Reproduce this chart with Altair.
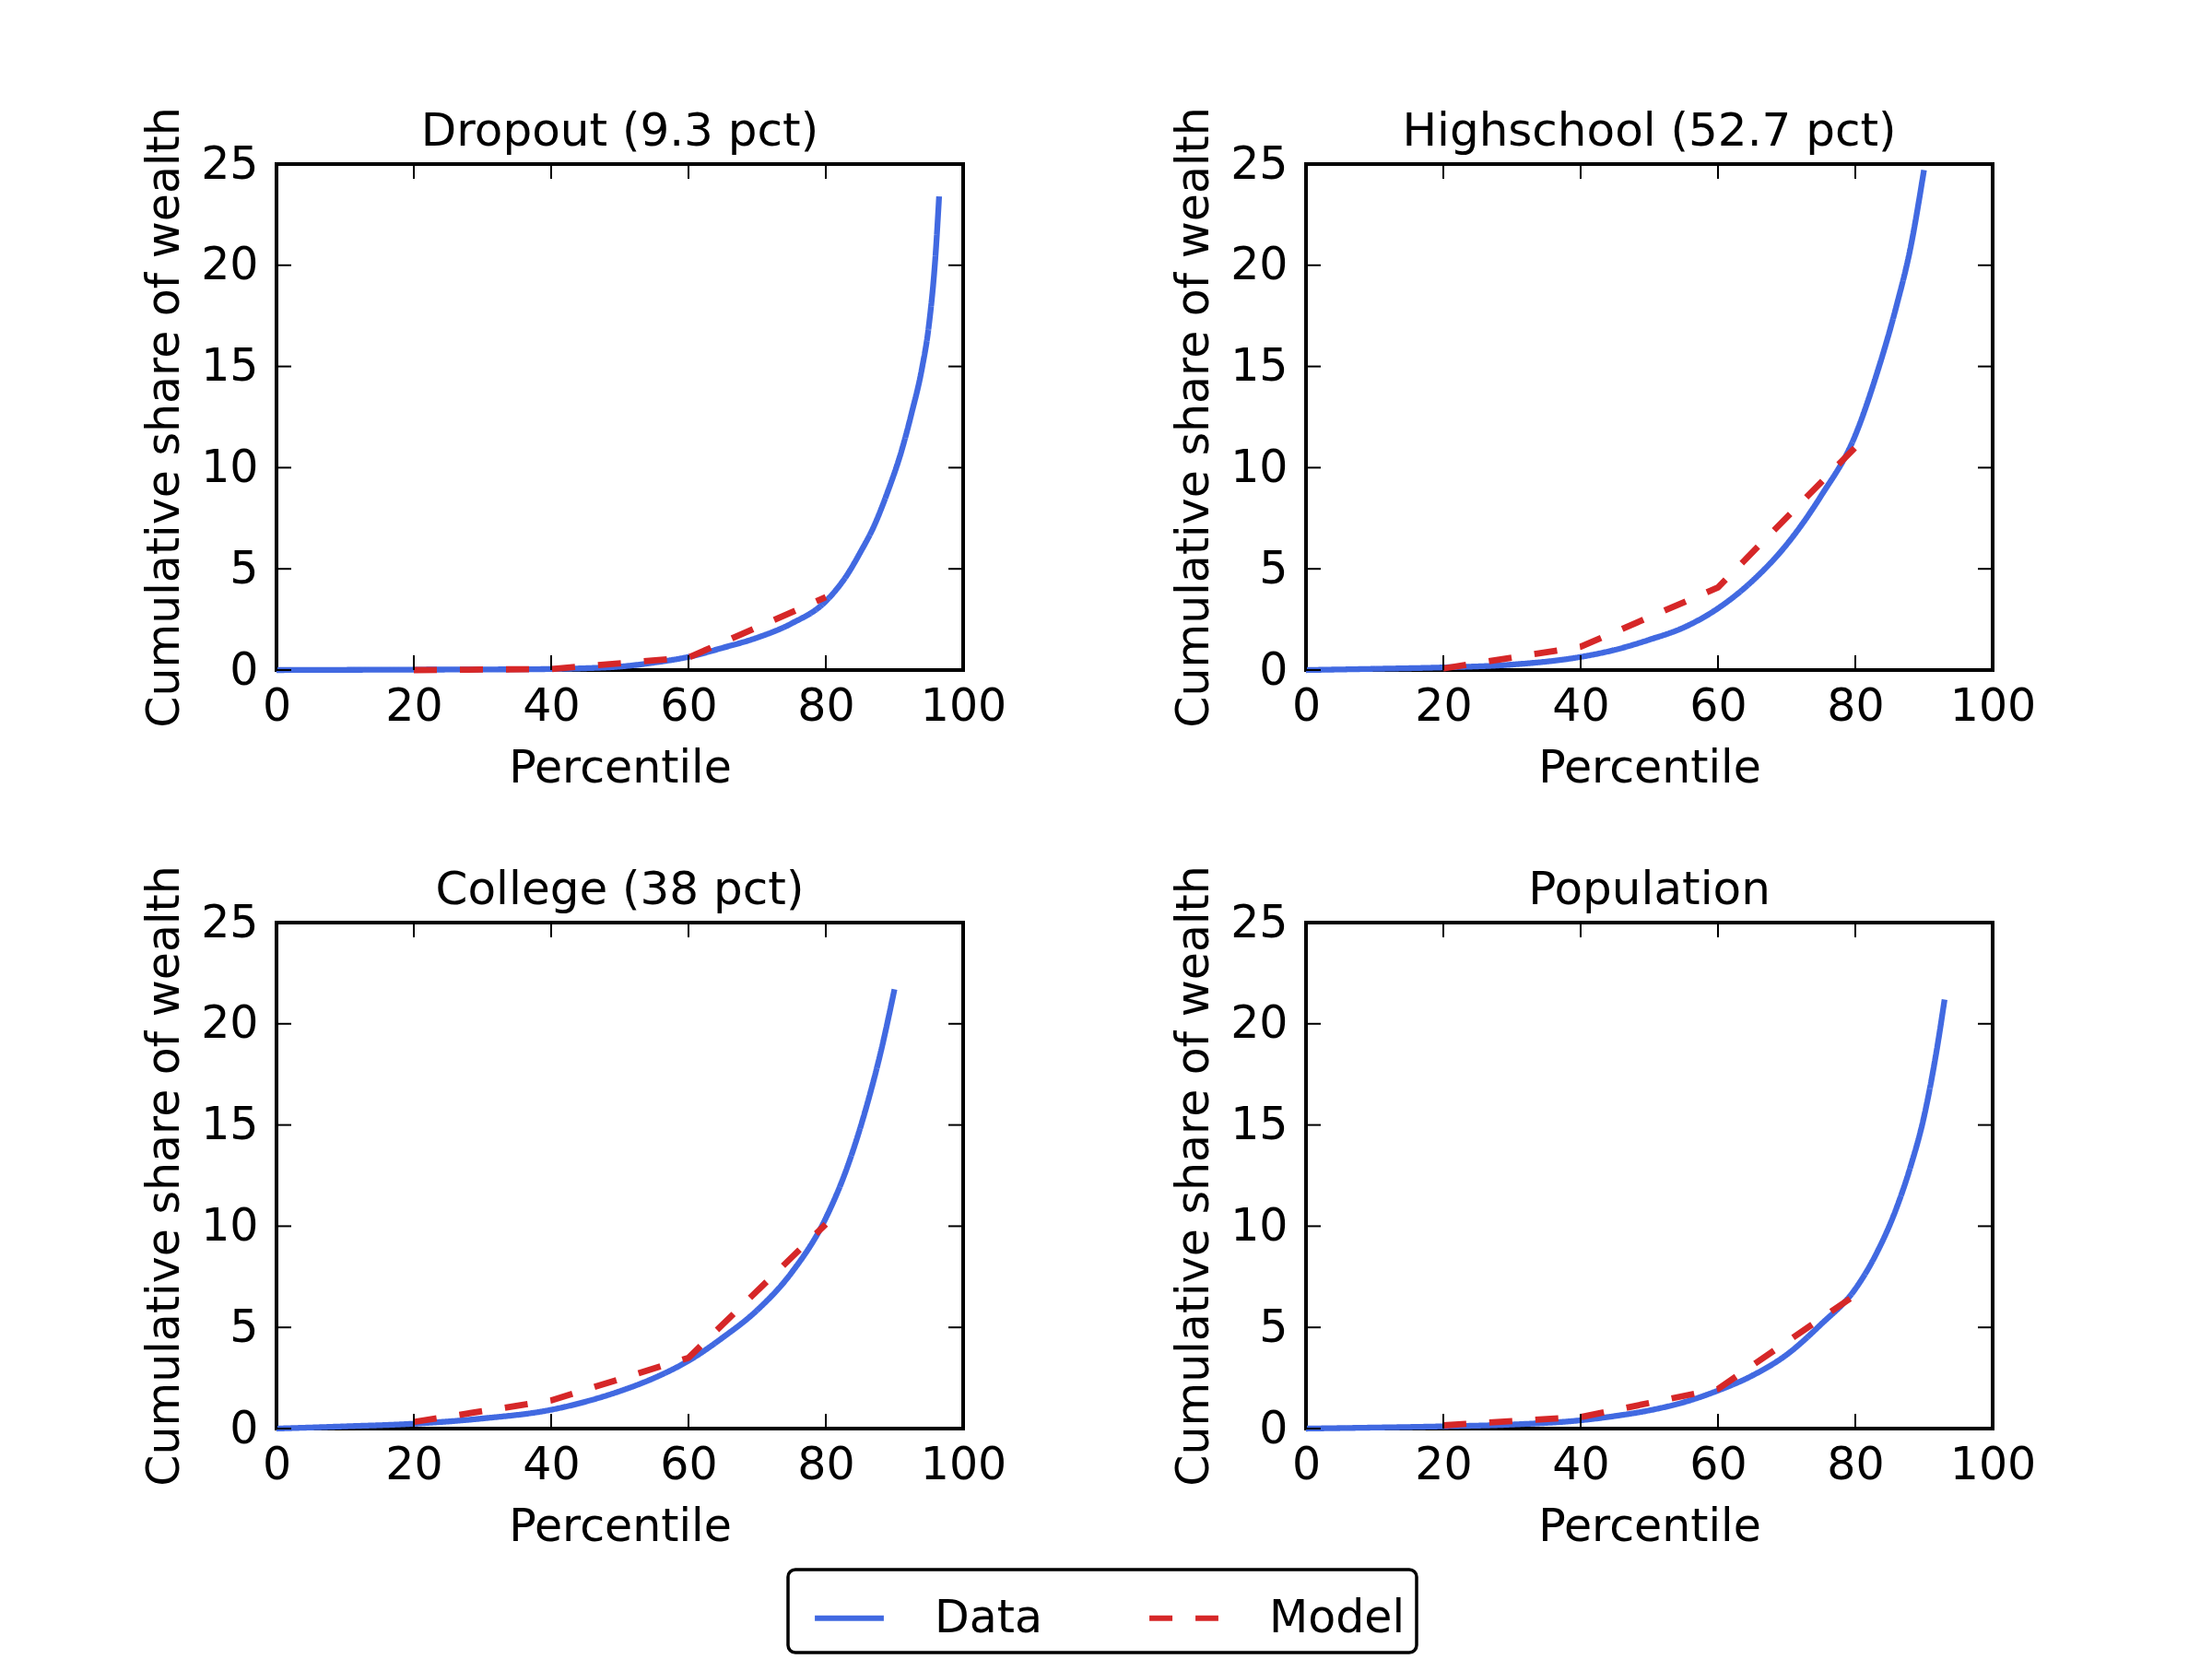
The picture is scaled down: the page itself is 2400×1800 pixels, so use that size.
import altair as alt
import pandas as pd

# ---------------- data ----------------
percentile_ticks = [0, 20, 40, 60, 80, 100]
share_ticks = [0, 5, 10, 15, 20, 25]

panel_titles = ["Dropout (9.3 pct)", "Highschool (52.7 pct)", "College (38 pct)", "Population"]

series_names = ["Data", "Model"]
series_colors = ["#4169E1", "#d62728"]
series_dashes = [[1, 0], [25, 25]]

dropout_data_x = [0, 10, 20, 30, 40, 45, 50, 55, 60, 65, 70, 75, 80, 83, 85, 87, 89, 91, 92.5, 94, 95, 96, 96.5]
dropout_data_y = [0, 0.01, 0.02, 0.03, 0.05, 0.09, 0.17, 0.37, 0.65, 1.1, 1.6, 2.3, 3.4, 4.65, 5.8, 7.1, 8.8, 10.8, 12.7, 14.9, 17.0, 20.6, 23.4]

highschool_data_x = [0, 10, 20, 30, 40, 45, 50, 55, 60, 65, 70, 75, 80, 83, 86, 88, 90]
highschool_data_y = [0, 0.06, 0.13, 0.27, 0.65, 1.0, 1.5, 2.1, 3.05, 4.4, 6.2, 8.6, 11.6, 14.5, 18.0, 20.8, 24.7]

college_data_x = [0, 10, 20, 30, 40, 45, 50, 55, 60, 65, 70, 75, 80, 83, 86, 88, 90]
college_data_y = [0, 0.11, 0.24, 0.5, 0.93, 1.33, 1.85, 2.5, 3.35, 4.5, 5.85, 7.7, 10.4, 12.8, 16.0, 18.6, 21.7]

population_data_x = [0, 10, 20, 30, 40, 45, 50, 55, 60, 65, 70, 75, 80, 83, 86, 88, 90, 92, 93]
population_data_y = [0, 0.05, 0.11, 0.2, 0.41, 0.62, 0.9, 1.3, 1.88, 2.62, 3.65, 5.15, 6.9, 8.6, 10.9, 12.9, 15.4, 19.0, 21.2]

model_x = [20, 40, 60, 80]
dropout_model_y = [0.0, 0.05, 0.62, 3.6]
highschool_model_y = [0.08, 1.15, 4.08, 11.0]
college_model_y = [0.33, 1.39, 3.5, 10.1]
population_model_y = [0.16, 0.57, 1.96, 6.6]

# ---------------- layout / style ----------------
W, H = 745, 549
TICK = 16
FONT = "DejaVu Sans"

legend = alt.Legend(
    orient="none", legendX=555, legendY=1525, direction="horizontal", title=None,
    symbolType="stroke", symbolSize=5600, symbolStrokeWidth=6, symbolOffset=14,
    labelFontSize=49, labelFont=FONT, labelColor="black", labelOffset=52, labelLimit=400,
    columnPadding=99, padding=12, strokeColor="black", cornerRadius=8, fillColor="white",
)


def panel(title, dx, dy, my):
    df_data = pd.DataFrame({"pct": dx, "share": dy, "series": "Data"})
    df_model = pd.DataFrame({"pct": model_x, "share": my, "series": "Model"})
    xs = alt.Scale(domain=[0, 100], nice=False, zero=False)
    ys = alt.Scale(domain=[0, 25], nice=False)
    color = alt.Color("series:N", scale=alt.Scale(domain=series_names, range=series_colors), legend=legend)
    dash = alt.StrokeDash("series:N", scale=alt.Scale(domain=series_names, range=series_dashes), legend=legend)
    x_enc = alt.X("pct:Q", scale=xs, axis=alt.Axis(values=percentile_ticks, title="Percentile"))
    y_enc = alt.Y("share:Q", scale=ys, axis=alt.Axis(values=share_ticks, title="Cumulative share of wealth"))

    data_line = alt.Chart(df_data).mark_line(strokeWidth=6.3, interpolate="monotone").encode(
        x=x_enc, y=y_enc, color=color, strokeDash=dash)
    model_line = alt.Chart(df_model).mark_line(strokeWidth=6.8).encode(
        x=x_enc, y=y_enc, color=color, strokeDash=dash)

    xt = pd.DataFrame({"pct": percentile_ticks})
    yt = pd.DataFrame({"share": share_ticks})
    tx = alt.X("pct:Q", scale=xs, axis=alt.Axis(values=percentile_ticks, title="Percentile"))
    ty = alt.Y("share:Q", scale=ys, axis=alt.Axis(values=share_ticks, title="Cumulative share of wealth"))
    top_t = alt.Chart(xt).mark_rule(color="black", strokeWidth=2).encode(
        x=tx, y=alt.value(0), y2=alt.value(TICK))
    bot_t = alt.Chart(xt).mark_rule(color="black", strokeWidth=2).encode(
        x=tx, y=alt.value(H - TICK), y2=alt.value(H))
    left_t = alt.Chart(yt).mark_rule(color="black", strokeWidth=2).encode(
        y=ty, x=alt.value(0), x2=alt.value(TICK))
    right_t = alt.Chart(yt).mark_rule(color="black", strokeWidth=2).encode(
        y=ty, x=alt.value(W - TICK), x2=alt.value(W))

    title_txt = alt.Chart(pd.DataFrame({"title": [title]})).mark_text(
        font=FONT, fontSize=50, baseline="alphabetic", align="center", color="black"
    ).encode(text="title:N", x=alt.value(W / 2), y=alt.value(-20))

    return alt.layer(data_line, model_line, top_t, bot_t, left_t, right_t, title_txt).properties(
        width=W, height=H)


p1 = panel(panel_titles[0], dropout_data_x, dropout_data_y, dropout_model_y)
p2 = panel(panel_titles[1], highschool_data_x, highschool_data_y, highschool_model_y)
p3 = panel(panel_titles[2], college_data_x, college_data_y, college_model_y)
p4 = panel(panel_titles[3], population_data_x, population_data_y, population_model_y)

chart = alt.concat(
    p1, p2, p3, p4, columns=2, spacing={"row": 274, "column": 372}, bounds="flush"
).resolve_scale(
    color="shared", strokeDash="shared"
).properties(
    padding={"left": 144, "top": 105, "right": 20, "bottom": 10},
    background="white",
).configure_view(
    stroke="black", strokeWidth=4
).configure_axis(
    grid=False, domain=False, ticks=False, tickSize=0,
    labelFont=FONT, labelFontSize=49, labelColor="black",
    titleFont=FONT, titleFontSize=49, titleFontWeight="normal", titleColor="black",
    labelFlush=False, labelOverlap=False,
).configure_axisX(
    labelPadding=15, titlePadding=18
).configure_axisY(
    labelPadding=20, titlePadding=14
).configure_legend(
    strokeWidth=3.5
)

chart.save("out.html", embed_options={"renderer": "svg", "actions": False})
